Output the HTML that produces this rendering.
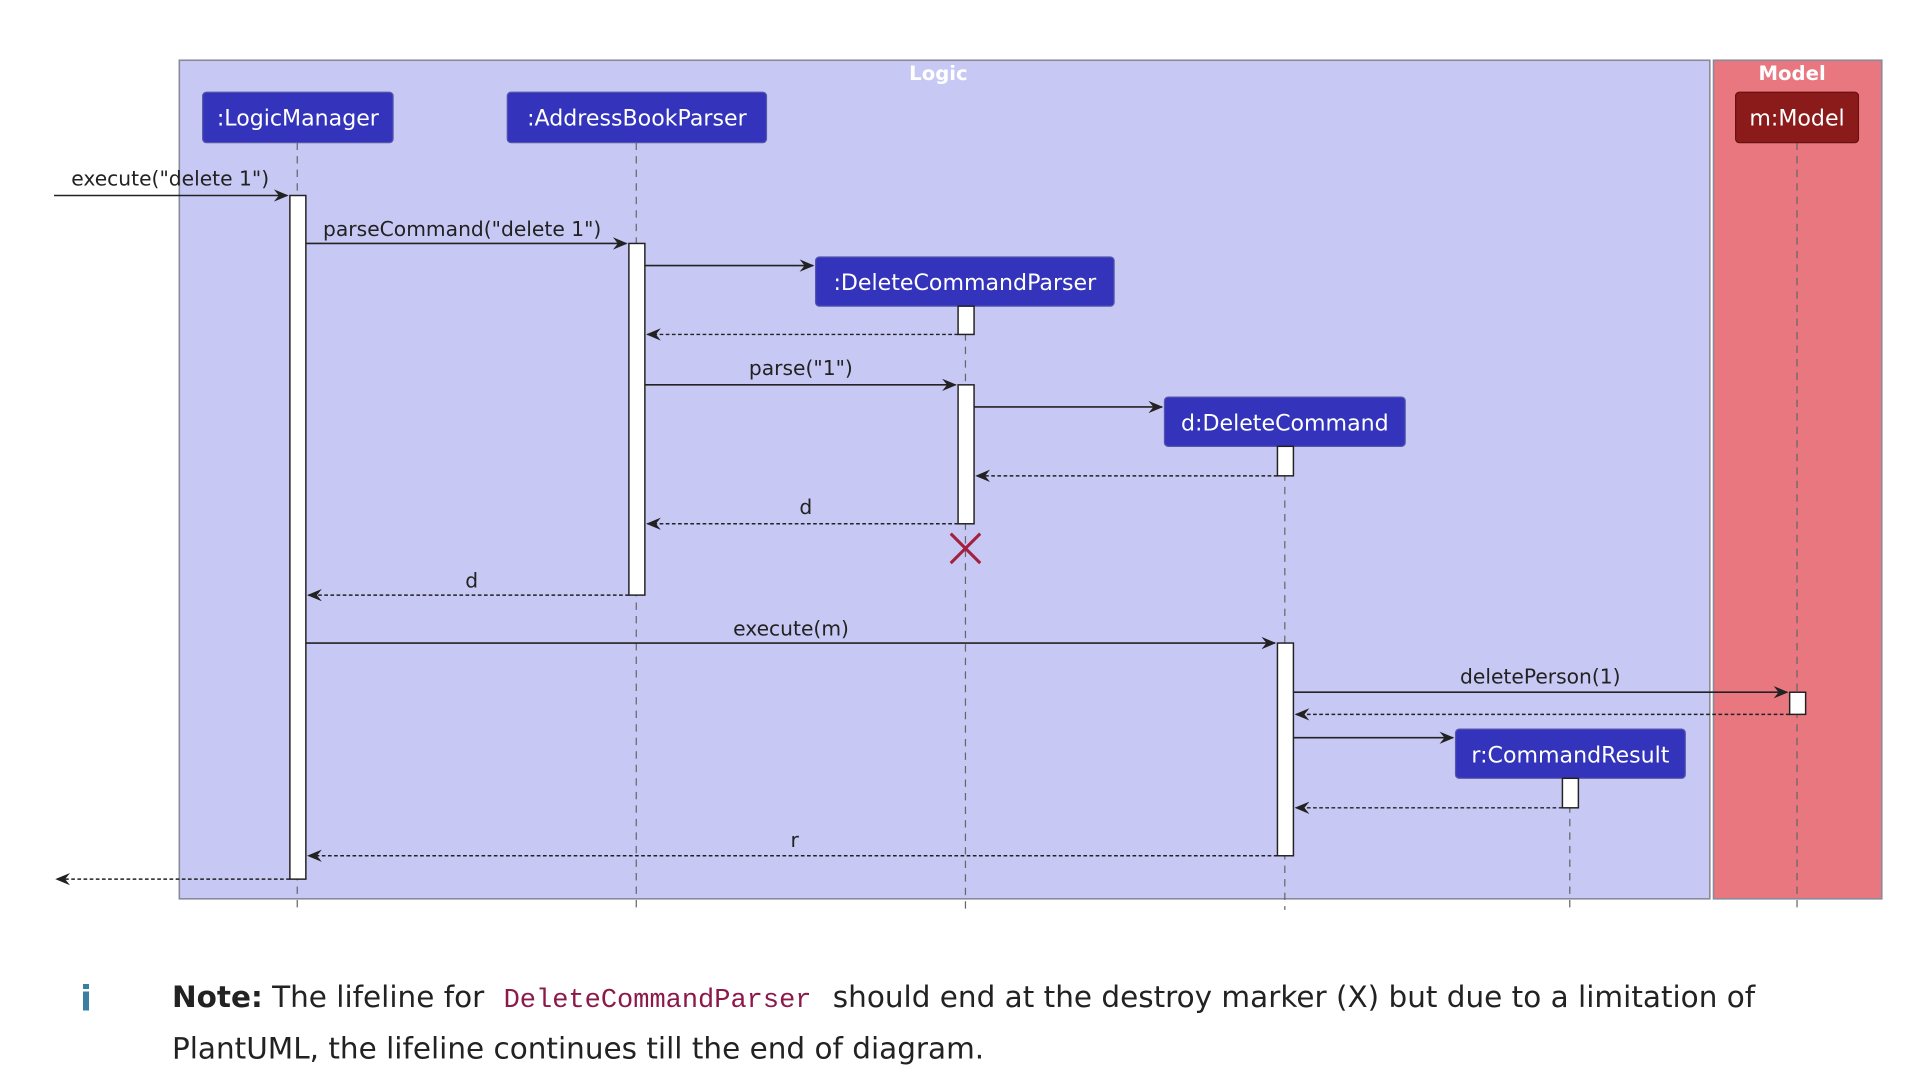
<!DOCTYPE html>
<html><head><meta charset="utf-8"><style>
html,body{margin:0;padding:0;background:#fff;width:1926px;height:1082px;overflow:hidden}
svg{display:block}
text{font-family:"DejaVu Sans","Liberation Sans",sans-serif}
</style></head><body>
<svg width="1926" height="1082" viewBox="0 0 1568 880" preserveAspectRatio="none" xmlns="http://www.w3.org/2000/svg">
<defs>
<g id="ah"><polygon points="0,0 -12,-5 -8,0 -12,5" fill="#222"/></g>
</defs>
<rect x="146" y="49" width="1246" height="682" fill="#c8c8f5" stroke="#8a8a9a" stroke-width="1.3"/>
<rect x="1395" y="49" width="137" height="682" fill="#e87780" stroke="#8a8a9a" stroke-width="1.3"/>
<text x="764" y="65" fill="#fff" font-size="16" font-weight="bold" text-anchor="middle">Logic</text>
<text x="1459" y="65" fill="#fff" font-size="16" font-weight="bold" text-anchor="middle">Model</text>
<g stroke="#666" stroke-width="1" stroke-dasharray="6,5" fill="none">
<line x1="242" y1="116" x2="242" y2="740"/>
<line x1="518" y1="116" x2="518" y2="740"/>
<line x1="786" y1="249" x2="786" y2="740"/>
<line x1="1046" y1="363" x2="1046" y2="740"/>
<line x1="1278" y1="633" x2="1278" y2="740"/>
<line x1="1463" y1="116" x2="1463" y2="740"/>
</g>
<g font-size="18" fill="#fff" text-anchor="middle">
<rect x="165" y="75" width="155" height="41" rx="3" fill="#3333bb" stroke="#5555aa"/><text x="242.5" y="102">:LogicManager</text>
<rect x="413" y="75" width="211" height="41" rx="3" fill="#3333bb" stroke="#5555aa"/><text x="518.5" y="102">:AddressBookParser</text>
<rect x="664" y="209" width="243" height="40" rx="3" fill="#3333bb" stroke="#5555aa"/><text x="785.5" y="236">:DeleteCommandParser</text>
<rect x="948" y="323" width="196" height="40" rx="3" fill="#3333bb" stroke="#5555aa"/><text x="1046" y="350">d:DeleteCommand</text>
<rect x="1185" y="593" width="187" height="40" rx="3" fill="#3333bb" stroke="#5555aa"/><text x="1278.5" y="620">r:CommandResult</text>
<rect x="1413" y="75" width="100" height="41" rx="3" fill="#8b1a1a" stroke="#6a1010"/><text x="1463" y="102">m:Model</text>
</g>
<g fill="#fff" stroke="#222" stroke-width="1.2">
<rect x="236" y="159" width="13" height="556"/>
<rect x="512" y="198" width="13" height="286"/>
<rect x="780" y="249" width="13" height="23"/>
<rect x="780" y="313" width="13" height="113"/>
<rect x="1040" y="363" width="13" height="24"/>
<rect x="1040" y="523" width="13" height="173"/>
<rect x="1457" y="563" width="13" height="18"/>
<rect x="1272" y="633" width="13" height="24"/>
</g>
<g stroke="#222" stroke-width="1.3">
<line x1="44" y1="159" x2="234" y2="159"/>
<line x1="249" y1="198" x2="510" y2="198"/>
<line x1="525" y1="216" x2="662" y2="216"/>
<line x1="525" y1="313" x2="778" y2="313"/>
<line x1="793" y1="331" x2="946" y2="331"/>
<line x1="249" y1="523" x2="1038" y2="523"/>
<line x1="1053" y1="563" x2="1455" y2="563"/>
<line x1="1053" y1="600" x2="1183" y2="600"/>
</g>
<g stroke="#222" stroke-width="1.2" stroke-dasharray="3,2">
<line x1="780" y1="272" x2="527" y2="272"/>
<line x1="1040" y1="387" x2="795" y2="387"/>
<line x1="780" y1="426" x2="527" y2="426"/>
<line x1="512" y1="484" x2="251" y2="484"/>
<line x1="1457" y1="581" x2="1055" y2="581"/>
<line x1="1272" y1="657" x2="1055" y2="657"/>
<line x1="1040" y1="696" x2="251" y2="696"/>
<line x1="236" y1="715" x2="46" y2="715"/>
</g>
<use href="#ah" transform="translate(235,159)"/>
<use href="#ah" transform="translate(511,198)"/>
<use href="#ah" transform="translate(663,216)"/>
<use href="#ah" transform="translate(779,313)"/>
<use href="#ah" transform="translate(947,331)"/>
<use href="#ah" transform="translate(1039,523)"/>
<use href="#ah" transform="translate(1456,563)"/>
<use href="#ah" transform="translate(1184,600)"/>
<use href="#ah" transform="translate(526,272) scale(-1,1)"/>
<use href="#ah" transform="translate(794,387) scale(-1,1)"/>
<use href="#ah" transform="translate(526,426) scale(-1,1)"/>
<use href="#ah" transform="translate(250,484) scale(-1,1)"/>
<use href="#ah" transform="translate(1054,581) scale(-1,1)"/>
<use href="#ah" transform="translate(1054,657) scale(-1,1)"/>
<use href="#ah" transform="translate(250,696) scale(-1,1)"/>
<use href="#ah" transform="translate(45,715) scale(-1,1)"/>
<g stroke="#a3213f" stroke-width="2.5"><line x1="774" y1="434" x2="798" y2="458"/><line x1="798" y1="434" x2="774" y2="458"/></g>
<g font-size="16.5" fill="#222">
<text x="58" y="151">execute("delete 1")</text>
<text x="263" y="192">parseCommand("delete 1")</text>
<text x="652" y="305" text-anchor="middle">parse("1")</text>
<text x="656" y="418" text-anchor="middle">d</text>
<text x="384" y="478" text-anchor="middle">d</text>
<text x="644" y="517" text-anchor="middle">execute(m)</text>
<text x="1254" y="556" text-anchor="middle">deletePerson(1)</text>
<text x="647" y="689" text-anchor="middle">r</text>
</g>
<text x="70" y="822" font-size="28" font-weight="bold" fill="#3a7fa0" text-anchor="middle" font-family="Liberation Serif,serif">i</text>
<text x="140" y="819" font-size="24" fill="#222"><tspan font-weight="bold">Note:</tspan> The lifeline for <tspan x="410" font-family="Liberation Mono,monospace" fill="#8b1a4a" font-size="22">DeleteCommandParser</tspan><tspan x="678">should end at the destroy marker (X) but due to a limitation of</tspan></text>
<text x="140" y="861" font-size="24" fill="#222">PlantUML, the lifeline continues till the end of diagram.</text>
</svg>
</body></html>
